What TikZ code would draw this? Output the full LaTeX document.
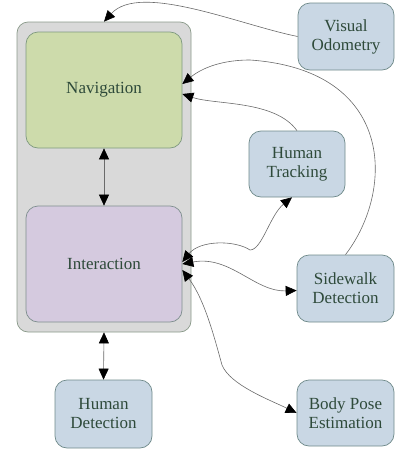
\documentclass[tikz,border=0pt]{standalone}
\usepackage{fontspec}
\setmainfont{Liberation Serif}
\usetikzlibrary{arrows.meta}
\definecolor{contfill}{HTML}{D9D9D9}
\definecolor{contdraw}{HTML}{8A9A8A}
\definecolor{navfill}{HTML}{CDDBAB}
\definecolor{navdraw}{HTML}{7F9A7F}
\definecolor{intfill}{HTML}{D5CADF}
\definecolor{intdraw}{HTML}{7F8F8F}
\definecolor{bluefill}{HTML}{C9D7E4}
\definecolor{bluedraw}{HTML}{6F8A8A}
\definecolor{txt}{HTML}{2E4A3A}
\definecolor{edgecol}{HTML}{6A6A6A}
\tikzset{
  x=1pt, y=-1pt,
  box/.style={rectangle, rounded corners=12pt, line width=0.7pt, text=txt,
    font=\rmfamily\fontsize{17}{20}\selectfont, align=center, inner sep=0pt},
  bigbox/.style={box, fill=#1fill, draw=#1draw, minimum width=156pt, minimum height=116pt},
  smallbox/.style={box, fill=bluefill, draw=bluedraw, minimum width=96pt, minimum height=67pt},
  conn/.style={draw=edgecol, line width=0.6pt},
  tip/.tip={Triangle[length=11pt,width=10pt,color=black,fill=black]},
}
\begin{document}
\begin{tikzpicture}
\useasboundingbox (0,0) rectangle (396,450);
\node[rectangle, rounded corners=11pt, fill=contfill, draw=contdraw, line width=0.7pt,
  minimum width=174pt, minimum height=310pt, inner sep=0pt] (cont) at (104,177) {};
\node[bigbox=nav] (nav) at (104,90) {Navigation};
\node[bigbox=int] (int) at (104,264) {Interaction};
\node[smallbox, minimum width=97pt, minimum height=68pt] (hd) at (103.5,414) {Human\\[-1pt]Detection};
\node[smallbox] (vo) at (346,36.5) {Visual\\[-1pt]Odometry};
\node[smallbox, minimum height=66pt] (ht) at (297,164) {Human\\[-1pt]Tracking};
\node[smallbox, minimum width=97pt] (sd) at (345.5,288.5) {Sidewalk\\[-1pt]Detection};
\node[smallbox, minimum width=97pt, minimum height=66pt] (bp) at (345.5,413) {Body Pose\\[-1pt]Estimation};

\draw[conn, {tip}-{tip}] (nav.south) -- (int.north);
\draw[conn, {tip}-{tip}] (cont.south) -- (hd.north);
\draw[conn, -{tip}] (vo.west) .. controls (240,25) and (140,-18) .. (cont.north);
\draw[conn, -{tip}] (sd.north) .. controls (395,190) and (395,70) .. (250,60)
   .. controls (215,60) and (197,72) .. ([yshift=6pt]nav.east);
\draw[conn, -{tip}] (ht.north) .. controls (275,100) and (215,105) .. ([yshift=-4pt]nav.east);
\draw[conn, {tip}-{tip}] ([yshift=2pt]int.east) .. controls (200,240) and (235,240) .. (250,250)
   .. controls (262,250) and (270,215) .. ([xshift=-5pt]ht.south);
\draw[conn, {tip}-{tip}] (int.east) .. controls (230,255) and (255,292) .. ([yshift=-2pt]sd.west);
\draw[conn, {tip}-{tip}] ([yshift=-6pt]int.east) .. controls (205,300) and (215,340) .. (222,365)
   .. controls (230,385) and (270,400) .. (bp.west);
\end{tikzpicture}
\end{document}
